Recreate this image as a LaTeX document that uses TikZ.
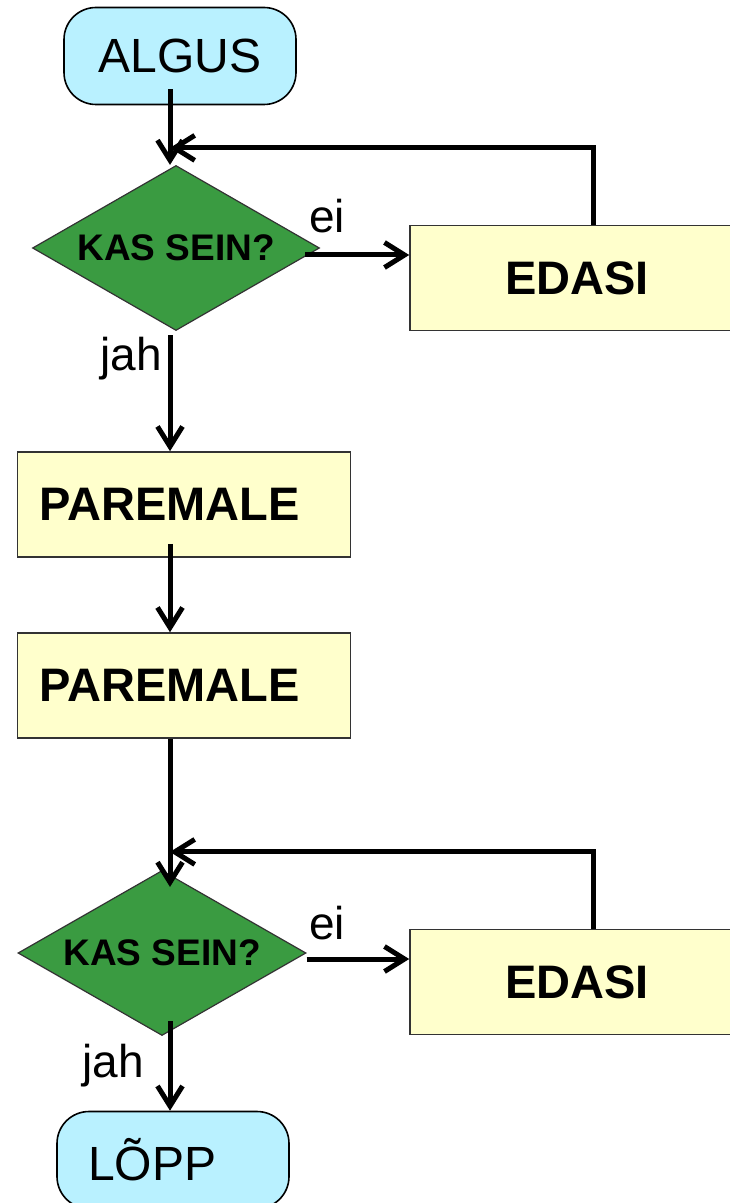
\documentclass[tikz,border=0pt]{standalone}
\usepackage{fontspec}
\setmainfont{Liberation Sans}
\usetikzlibrary{shapes.geometric}
\usetikzlibrary{arrows.meta}
\definecolor{startblue}{RGB}{185,241,255}
\definecolor{askgreen}{RGB}{58,155,65}
\definecolor{stepyellow}{RGB}{255,255,204}

\begin{document}
\begin{tikzpicture}[x=0.5pt,y=-0.5pt,
	>={Straight Barb[length=10pt,width=12.5pt]},
	terminal/.style={draw=black,line width=0.8pt,fill=startblue,rounded corners=16pt,
		minimum width=116pt,minimum height=48.5pt,inner sep=0pt,
		font=\fontsize{24}{28}\selectfont},
	question/.style={draw=black!80,line width=0.6pt,fill=askgreen,shape=diamond,aspect=1.74,
		minimum width=143.5pt,minimum height=82.5pt,inner sep=0pt,
		font=\fontsize{18.5}{22}\selectfont\bfseries},
	action/.style={draw=black!80,line width=0.8pt,fill=stepyellow,
		minimum height=52.5pt,font=\fontsize{23.5}{27}\selectfont\bfseries},
	answer/.style={anchor=base west,inner sep=0pt,font=\fontsize{23}{27}\selectfont},
	flow/.style={->,line width=2.5pt}
	]
	\useasboundingbox (0,0) rectangle (729,1203);
	\coordinate (spine) at (170,0);

	\node[terminal] (algus) at (180,56) {ALGUS};
	\node[question] (kas1) at (176,248) {KAS SEIN?};
	\node[action,minimum width=167pt] (edasi1) at (577,278) {EDASI};
	\node[action,text width=144.5pt,align=left,inner xsep=11pt] (par1) at (184,504.5) {PAREMALE};
	\node[action,text width=144.5pt,align=left,inner xsep=11pt] (par2) at (184,685.5) {PAREMALE};
	\node[question,minimum width=144pt] (kas2) at (162,953) {KAS SEIN?};
	\node[action,minimum width=167pt] (edasi2) at (577,982) {EDASI};
	\node[terminal,text width=85pt,align=left,inner xsep=15.5pt] (lopp) at (173,1160) {LÕPP};

	% yes / no labels
	\node[answer] (ei1) at (309,233) {ei};
	\node[answer] (jah1) at (100,370) {jah};
	\node[answer] (ei2) at (309,939) {ei};
	\node[answer] (jah2) at (82,1077) {jah};

	% main line
	\draw[flow,shorten <=-8pt] (algus.south -| spine) -- (kas1.north -| spine);
	\draw[flow,shorten <=2pt] (kas1.south -| spine) -- (par1.north -| spine);
	\draw[flow,shorten <=-7pt] (par1.south -| spine) -- (par2.north -| spine);
	\draw[flow,shorten >=-8.5pt] (par2.south -| spine) -- (kas2.north -| spine);
	\draw[flow,shorten <=-7.5pt] (kas2.south -| spine) -- (lopp.north -| spine);

	% loops back to the questions
	\draw[flow,shorten <=-7.5pt] ([yshift=-3.5pt]kas1.east) -- ([yshift=-3.5pt]kas1.east -| edasi1.west);
	\draw[flow] ([xshift=8pt]edasi1.north) |- ([yshift=8.5pt]kas1.north -| spine);
	\draw[flow] ([yshift=-3pt]kas2.east) -- ([yshift=-3pt]kas2.east -| edasi2.west);
	\draw[flow] ([xshift=8pt]edasi2.north) |- ([yshift=9pt]kas2.north -| spine);
\end{tikzpicture}
\end{document}
